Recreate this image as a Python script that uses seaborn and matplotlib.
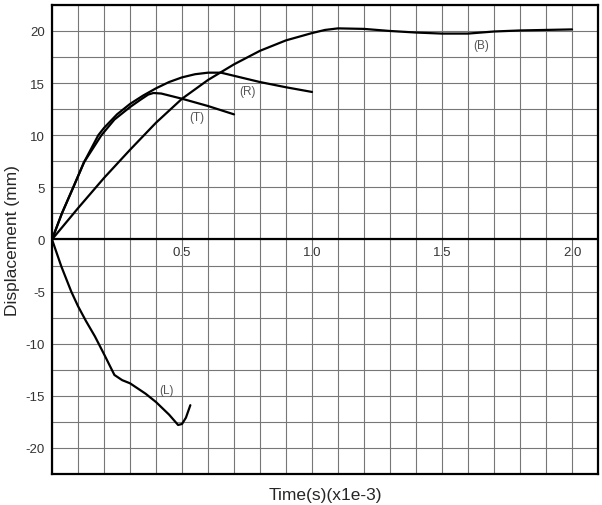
import numpy as np
import pandas as pd
import seaborn as sns
import matplotlib
matplotlib.use("Agg")
import matplotlib.pyplot as plt

# --- data (time in 1e-3 s, displacement in mm) ---
b_time = [0, 0.1, 0.2, 0.3, 0.4, 0.5, 0.6, 0.7, 0.8, 0.9, 1.0, 1.05, 1.1, 1.2,
          1.3, 1.4, 1.5, 1.6, 1.7, 1.8, 1.9, 2.0]
b_disp = [0, 3.0, 5.9, 8.6, 11.2, 13.5, 15.3, 16.8, 18.1, 19.1, 19.8, 20.1, 20.25, 20.2,
          20.0, 19.85, 19.75, 19.75, 19.95, 20.05, 20.1, 20.15]

r_time = [0, 0.038, 0.08, 0.123, 0.178, 0.2, 0.25, 0.3, 0.35, 0.4, 0.45, 0.5, 0.55,
          0.6, 0.65, 0.7, 0.8, 0.9, 1.0]
r_disp = [0, 2.5, 4.9, 7.4, 10.0, 10.7, 12.0, 13.0, 13.8, 14.5, 15.1, 15.55, 15.85,
          16.0, 16.0, 15.7, 15.1, 14.6, 14.15]

t_time = [0, 0.038, 0.08, 0.123, 0.19, 0.24, 0.3, 0.34, 0.37, 0.39, 0.42, 0.5, 0.6, 0.7]
t_disp = [0, 2.5, 4.9, 7.4, 10.0, 11.5, 12.7, 13.4, 13.9, 14.05, 14.0, 13.5, 12.8, 12.0]

l_time = [0, 0.036, 0.074, 0.1, 0.13, 0.165, 0.2, 0.24, 0.27, 0.3, 0.36, 0.4, 0.45,
          0.485, 0.5, 0.515, 0.532]
l_disp = [0, -2.6, -5.0, -6.4, -7.8, -9.3, -11.0, -13.0, -13.5, -13.8, -14.8, -15.6, -16.8,
          -17.8, -17.7, -17.1, -15.9]

curve_names = ["(B)", "(R)", "(T)", "(L)"]
label_x = [1.65, 0.75, 0.555, 0.44]
label_y = [18.7, 14.2, 11.75, -14.4]

x_ticks = [0.5, 1.0, 1.5, 2.0]
y_ticks = [20, 15, 10, 5, 0, -5, -10, -15, -20]

frames = []
for name, t, d in zip(curve_names, [b_time, r_time, t_time, l_time],
                      [b_disp, r_disp, t_disp, l_disp]):
    frames.append(pd.DataFrame({"time": t, "disp": d, "curve": name}))
df = pd.concat(frames, ignore_index=True)

sns.set_style("white")
plt.rcParams["font.family"] = ["Liberation Sans", "DejaVu Sans"]

fig = plt.figure(figsize=(6.02, 5.06), dpi=100)
ax = fig.add_axes([0.0864, 0.0613, 0.907, 0.927])

sns.lineplot(data=df, x="time", y="disp", hue="curve", units="curve",
             estimator=None, sort=False, palette=["black"] * 4,
             linewidth=1.6, legend=False, ax=ax)

ax.set_xlim(0, 2.1)
ax.set_ylim(-22.5, 22.5)

# grid every 0.1 / 2.5
ax.set_xticks(np.arange(0, 2.11, 0.1), minor=True)
ax.set_yticks(np.arange(-22.5, 22.6, 2.5), minor=True)
ax.grid(which="minor", color="#777777", linewidth=0.8)
ax.grid(which="major", color="#777777", linewidth=0.8)
ax.set_axisbelow(True)
ax.axhline(0, color="black", linewidth=1.6)

ax.set_xticks(x_ticks)
ax.set_xticklabels([])
ax.set_yticks(y_ticks)
ax.set_yticklabels([str(v) for v in y_ticks], fontsize=9.5, color="#333333")
ax.tick_params(which="both", length=0)
ax.tick_params(axis="y", pad=5)

# x tick labels sit just under the zero line
for xv in x_ticks:
    ax.annotate(f"{xv:.1f}", (xv, 0), xytext=(0, -5), textcoords="offset points",
                ha="center", va="top", fontsize=9.5, color="#333333")

for name, lx, ly in zip(curve_names, label_x, label_y):
    ax.text(lx, ly, name, ha="center", va="center", fontsize=8.5, color="#555555")

for s in ax.spines.values():
    s.set_color("black")
    s.set_linewidth(1.6)

ax.set_xlabel("Time(s)(x1e-3)", fontsize=12.5, labelpad=6)
ax.set_ylabel("Displacement (mm)", fontsize=12.5, labelpad=4)

fig.savefig("out.png", dpi=100)
